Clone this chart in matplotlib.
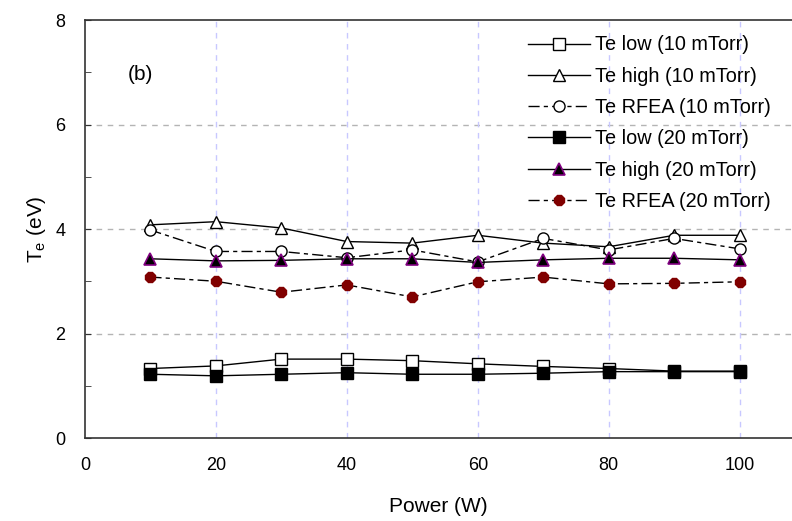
import matplotlib
matplotlib.use('Agg')
import matplotlib.pyplot as plt

plt.rcParams['font.family'] = ['Liberation Sans', 'DejaVu Sans']

# Power values (W)
power = [10, 20, 30, 40, 50, 60, 70, 80, 90, 100]

# Electron temperature (eV)
te_low_10 = [1.33, 1.38, 1.51, 1.51, 1.48, 1.42, 1.37, 1.33, 1.28, 1.28]
te_high_10 = [4.08, 4.14, 4.02, 3.76, 3.73, 3.88, 3.73, 3.66, 3.88, 3.88]
te_rfea_10 = [3.98, 3.57, 3.57, 3.45, 3.60, 3.37, 3.82, 3.60, 3.82, 3.62]
te_low_20 = [1.22, 1.19, 1.22, 1.25, 1.22, 1.22, 1.24, 1.27, 1.27, 1.27]
te_high_20 = [3.43, 3.39, 3.40, 3.43, 3.43, 3.36, 3.41, 3.44, 3.44, 3.41]
te_rfea_20 = [3.08, 3.00, 2.79, 2.93, 2.70, 2.99, 3.08, 2.95, 2.96, 2.99]

fig = plt.figure(figsize=(7.92, 5.21), dpi=100)
ax = fig.add_axes([0.1073, 0.1593, 0.8927, 0.8023])

dash = (8, 3, 3, 3)
ms = 8

ax.plot(power, te_low_10, color='black', lw=1, marker='s', ms=ms,
        mfc='white', mec='black', label='Te low (10 mTorr)')
ax.plot(power, te_high_10, color='black', lw=1, marker='^', ms=ms + 1,
        mfc='white', mec='black', label='Te high (10 mTorr)')
ax.plot(power, te_rfea_10, color='black', lw=1, dashes=dash, marker='o', ms=ms,
        mfc='white', mec='black', label='Te RFEA (10 mTorr)')
ax.plot(power, te_low_20, color='black', lw=1, marker='s', ms=ms,
        mfc='black', mec='black', label='Te low (20 mTorr)')
ax.plot(power, te_high_20, color='black', lw=1, marker='^', ms=ms + 1,
        mfc='black', mec='#800080', mew=1.2, label='Te high (20 mTorr)')
ax.plot(power, te_rfea_20, color='black', lw=1, dashes=dash, marker='8', ms=ms,
        mfc='#800000', mec='#800000', label='Te RFEA (20 mTorr)')

ax.set_xlim(0, 108)
ax.set_ylim(0, 8)
ax.set_xticks([0, 20, 40, 60, 80, 100])
ax.set_yticks([0, 2, 4, 6, 8])
ax.set_yticks([1, 3, 5, 7], minor=True)

for y in [2, 4, 6]:
    ax.axhline(y, color='#b4b4b4', lw=1, ls=(0, (4, 4)), zorder=0)
for x in [20, 40, 60, 80, 100]:
    ax.axvline(x, color='#c8c8ff', lw=1, ls=(0, (4, 4)), zorder=0)

ax.spines['right'].set_visible(False)
for s in ['left', 'top', 'bottom']:
    ax.spines[s].set_color('#333333')
    ax.spines[s].set_linewidth(1.2)

ax.tick_params(axis='y', which='both', direction='in', length=4, pad=14,
               labelsize=13, color='#333333')
ax.tick_params(axis='x', length=0, pad=14, labelsize=13)

ax.set_xlabel('Power (W)', fontsize=15, labelpad=16)
ax.set_ylabel('T$_\\mathregular{e}$ (eV)', fontsize=15, labelpad=5)

ax.text(8.4, 6.95, '(b)', fontsize=15, ha='center', va='center')

ax.legend(loc='upper left', bbox_to_anchor=(0.6266, 0.963), frameon=False,
          fontsize=14.3, handlelength=3.1, labelspacing=0.62,
          handletextpad=0.25, borderpad=0, borderaxespad=0)

fig.savefig('out.png', dpi=100)
